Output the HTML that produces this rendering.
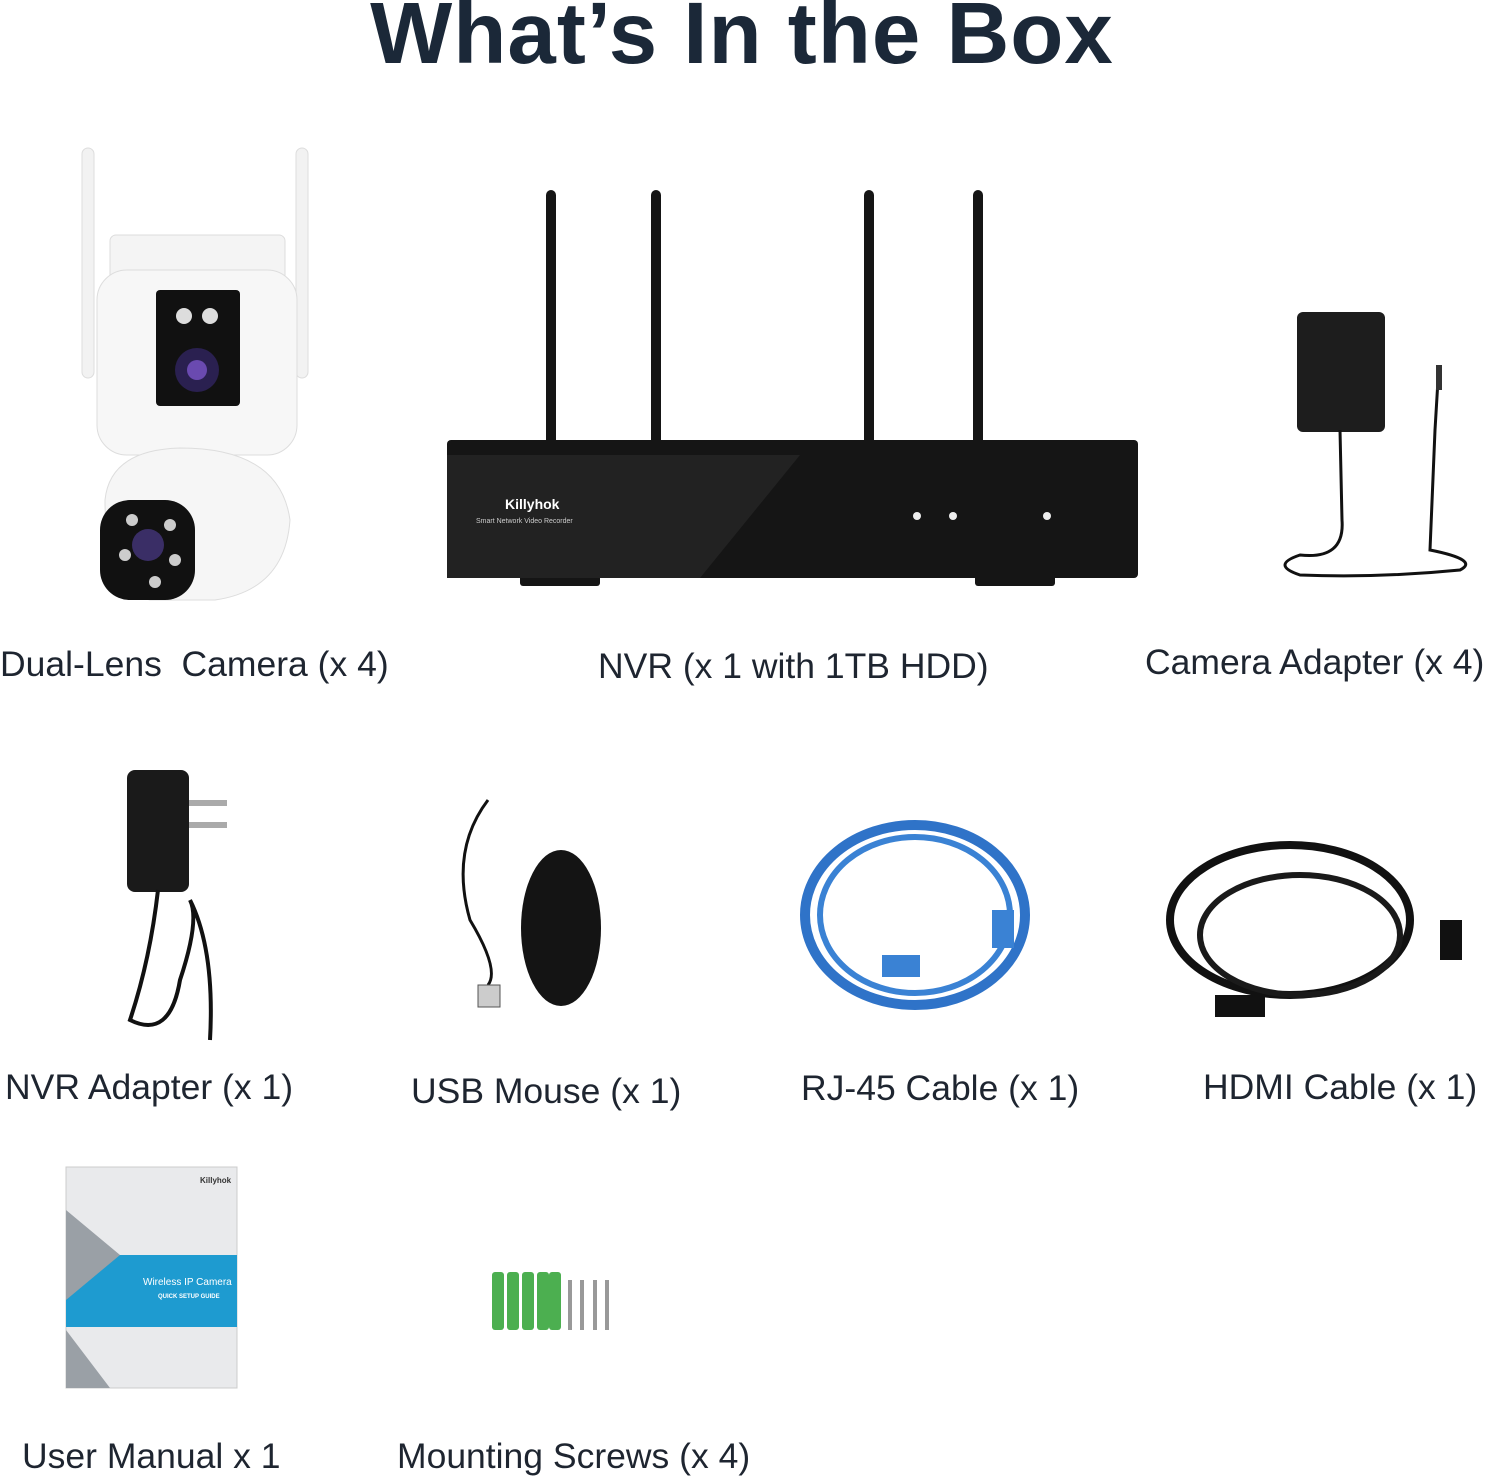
<!DOCTYPE html>
<html><head><meta charset="utf-8"><style>
html,body{margin:0;padding:0;background:#fff;}
body{width:1500px;height:1481px;position:relative;overflow:hidden;font-family:"Liberation Sans",sans-serif;}
.t{position:absolute;white-space:nowrap;color:#1e2530;font-size:35.5px;line-height:40px;}
h1{position:absolute;left:0;width:1484px;top:-16px;margin:0;text-align:center;font-size:87px;font-weight:bold;color:#1b2838;letter-spacing:1px;line-height:100px;}
svg{position:absolute;left:0;top:0;}
</style></head><body>
<h1>What’s In the Box</h1>
<svg width="1500" height="1481" viewBox="0 0 1500 1481">
<rect x="82" y="148" width="12" height="230" rx="6" fill="#f2f2f2" stroke="#ddd"/>
<rect x="296" y="148" width="12" height="230" rx="6" fill="#f2f2f2" stroke="#ddd"/>
<rect x="110" y="235" width="175" height="60" rx="6" fill="#f4f4f4" stroke="#ddd"/>
<rect x="97" y="270" width="200" height="185" rx="30" fill="#f7f7f7" stroke="#ddd"/>
<rect x="156" y="290" width="84" height="116" rx="4" fill="#111"/>
<circle cx="184" cy="316" r="8" fill="#ddd"/><circle cx="210" cy="316" r="8" fill="#ddd"/>
<circle cx="197" cy="370" r="22" fill="#2a2050"/><circle cx="197" cy="370" r="10" fill="#6a4ab0"/>
<path d="M105 500 Q110 450 180 448 Q280 448 290 520 Q285 590 215 600 L150 600 Q105 590 105 500Z" fill="#f6f6f6" stroke="#ddd"/>
<rect x="100" y="500" width="95" height="100" rx="30" fill="#111"/>
<circle cx="148" cy="545" r="16" fill="#3a2e66"/>
<circle cx="132" cy="520" r="6" fill="#ccc"/><circle cx="170" cy="525" r="6" fill="#ccc"/><circle cx="125" cy="555" r="6" fill="#ccc"/><circle cx="175" cy="560" r="6" fill="#ccc"/><circle cx="155" cy="582" r="6" fill="#ccc"/>
<g fill="#151515">
<rect x="546" y="190" width="10" height="255" rx="5"/><rect x="651" y="190" width="10" height="255" rx="5"/>
<rect x="864" y="190" width="10" height="255" rx="5"/><rect x="973" y="190" width="10" height="255" rx="5"/>
<rect x="447" y="440" width="691" height="138" rx="4"/>
<rect x="520" y="572" width="80" height="14" rx="3"/><rect x="975" y="572" width="80" height="14" rx="3"/>
</g>
<path d="M447 455 L800 455 L700 578 L447 578Z" fill="#222"/>
<text x="505" y="509" font-family="Liberation Sans" font-size="14" font-weight="bold" fill="#fff">Killyhok</text>
<text x="476" y="523" font-family="Liberation Sans" font-size="7" fill="#ccc">Smart Network Video Recorder</text>
<circle cx="917" cy="516" r="4" fill="#eee"/><circle cx="953" cy="516" r="4" fill="#eee"/><circle cx="1047" cy="516" r="4" fill="#eee"/>
<rect x="1297" y="312" width="88" height="120" rx="6" fill="#1d1d1d"/>
<path d="M1340 430 L1342 520 Q1345 560 1300 555 Q1270 565 1300 575 Q1380 578 1460 570 Q1480 560 1430 550 L1435 430 L1438 380" fill="none" stroke="#111" stroke-width="3"/>
<rect x="1436" y="365" width="6" height="25" fill="#333"/>
<rect x="127" y="770" width="62" height="122" rx="8" fill="#1a1a1a"/>
<rect x="189" y="800" width="38" height="6" fill="#aaa"/><rect x="189" y="822" width="38" height="6" fill="#aaa"/>
<path d="M158 890 Q150 960 130 1020 Q170 1040 180 980 Q200 920 190 900 Q215 950 210 1040" fill="none" stroke="#111" stroke-width="4"/>
<path d="M488 800 Q450 850 470 920 Q500 970 488 985" fill="none" stroke="#111" stroke-width="3"/>
<rect x="478" y="985" width="22" height="22" fill="#ccc" stroke="#555"/>
<ellipse cx="561" cy="928" rx="40" ry="78" fill="#141414"/>
<ellipse cx="915" cy="915" rx="110" ry="90" fill="none" stroke="#2f73c8" stroke-width="10"/>
<ellipse cx="915" cy="915" rx="95" ry="78" fill="none" stroke="#3a82d4" stroke-width="6"/>
<rect x="992" y="910" width="22" height="38" fill="#3a82d4"/><rect x="882" y="955" width="38" height="22" fill="#3a82d4"/>
<ellipse cx="1290" cy="920" rx="120" ry="75" fill="none" stroke="#111" stroke-width="8"/>
<ellipse cx="1300" cy="935" rx="100" ry="60" fill="none" stroke="#1a1a1a" stroke-width="6"/>
<rect x="1440" y="920" width="22" height="40" fill="#111"/><rect x="1215" y="995" width="50" height="22" fill="#111"/>
<rect x="66" y="1167" width="171" height="221" fill="#e9eaec" stroke="#ccc"/>
<rect x="66" y="1255" width="171" height="72" fill="#1e9bd0"/>
<text x="143" y="1285" font-family="Liberation Sans" font-size="10" fill="#fff">Wireless IP Camera</text>
<text x="158" y="1298" font-family="Liberation Sans" font-size="6" fill="#fff" font-weight="bold">QUICK SETUP GUIDE</text>
<text x="200" y="1183" font-family="Liberation Sans" font-size="8" font-weight="bold" fill="#333">Killyhok</text>
<path d="M66 1210 L120 1255 L66 1300Z M66 1330 L110 1388 L66 1388Z" fill="#9aa0a6"/>
<g fill="#4caf50"><rect x="492" y="1272" width="12" height="58" rx="3"/><rect x="507" y="1272" width="12" height="58" rx="3"/><rect x="522" y="1272" width="12" height="58" rx="3"/><rect x="537" y="1272" width="12" height="58" rx="3"/><rect x="549" y="1272" width="12" height="58" rx="3"/></g>
<g stroke="#999" stroke-width="4"><line x1="570" y1="1280" x2="570" y2="1330"/><line x1="582" y1="1280" x2="582" y2="1330"/><line x1="595" y1="1280" x2="595" y2="1330"/><line x1="607" y1="1280" x2="607" y2="1330"/></g>
</svg>
<div class="t" style="left:0;top:644px;">Dual-Lens&nbsp; Camera (x 4)</div>
<div class="t" style="left:598px;top:646px;">NVR (x 1 with 1TB HDD)</div>
<div class="t" style="left:1145px;top:642px;">Camera Adapter (x 4)</div>
<div class="t" style="left:5px;top:1067px;">NVR Adapter (x 1)</div>
<div class="t" style="left:411px;top:1071px;">USB Mouse (x 1)</div>
<div class="t" style="left:801px;top:1068px;">RJ-45 Cable (x 1)</div>
<div class="t" style="left:1203px;top:1067px;">HDMI Cable (x 1)</div>
<div class="t" style="left:22px;top:1436px;">User Manual x 1</div>
<div class="t" style="left:397px;top:1436px;">Mounting Screws (x 4)</div>
</body></html>
